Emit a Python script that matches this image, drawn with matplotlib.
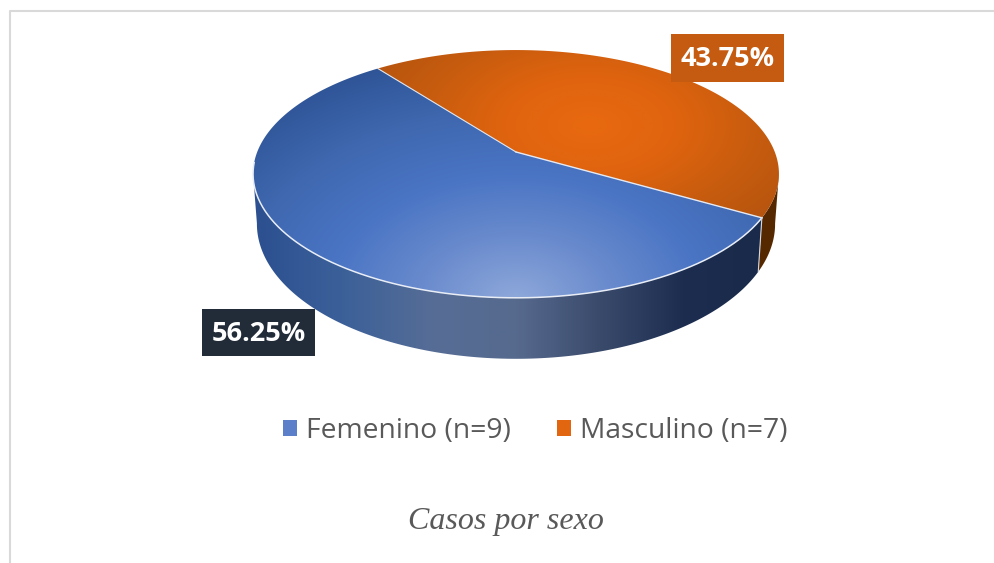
import numpy as np
import matplotlib
matplotlib.use('Agg')
import matplotlib.pyplot as plt
from matplotlib.colors import LinearSegmentedColormap
from matplotlib.patches import Polygon, Rectangle

categories = ['Femenino', 'Masculino']
counts = [9, 7]
caption = 'Casos por sexo'

total = sum(counts)
start_angle = 127.5

# perspective of the pie: pivot y, half width, height scale
k = 0.177
cx = 516
top_face = (152, 258.8, 120)
low_face = (200, 255, 130.7)


def rim(a0, a1, face):
    py, b, a = face
    t = np.radians(np.linspace(a0, a1, 240))
    u, v = np.cos(t), np.sin(t)
    return np.column_stack([cx + b * u / (1 + k * v), py - a * v / (1 + k * v)])


def paint(ax, poly, img, extent, cmap):
    patch = Polygon(poly, closed=True, fc='none', ec='none', transform=ax.transData)
    ax.add_patch(patch)
    im = ax.imshow(img, extent=extent, cmap=cmap, vmin=0, vmax=1, aspect='auto',
                   interpolation='bilinear', zorder=2)
    im.set_clip_path(patch)


fig = plt.figure(figsize=(9.95, 5.63), dpi=100)
ax = fig.add_axes([0, 0, 1, 1])

# grid for the gradients
xs, ys = np.meshgrid(np.linspace(240, 790, 300), np.linspace(0, 365, 200))
extent = (240, 790, 365, 0)

blue_top = LinearSegmentedColormap.from_list('bt', ['#8ea8da', '#6a8bcd', '#4a75c4', '#3f68b0', '#2f5597'])
orange_top = LinearSegmentedColormap.from_list('ot', ['#e8690f', '#e0640f', '#c75c0e', '#b3530f'])
blue_side = LinearSegmentedColormap.from_list(
    'bs', [(0, '#2c5090'), (0.17, '#3b6099'), (0.35, '#566d96'), (0.52, '#566a8e'),
           (0.68, '#3b4b6c'), (0.85, '#1c2d50'), (1, '#1a2a4a')])

a_fem = counts[0] / total * 360
end_angle = start_angle + a_fem

# side walls
side_x = (xs - 255) / (760 - 255)
fem_side = np.vstack([rim(190, end_angle, top_face), rim(end_angle, 190, low_face)])
paint(ax, fem_side, np.clip(side_x, 0, 1), extent, blue_side)
masc_side = np.vstack([rim(end_angle, 350, top_face), rim(350, end_angle, low_face)])
ax.add_patch(Polygon(masc_side, closed=True, fc='#562800', ec='none', zorder=2))

# top faces
pivot = [cx, top_face[0]]
d = np.hypot((xs - 516) / 300, (ys - 300) / 200)
fem_top = np.vstack([pivot, rim(start_angle, end_angle, top_face)])
paint(ax, fem_top, np.clip(d / 1.25, 0, 1), extent, blue_top)
d2 = np.hypot((xs - 590) / 210, (ys - 125) / 120)
masc_top = np.vstack([pivot, rim(end_angle, start_angle + 360, top_face)])
paint(ax, masc_top, np.clip(d2 / 1.2, 0, 1), extent, orange_top)

# thin light edges
ax.plot(*np.vstack([pivot, rim(end_angle, end_angle, top_face)[:1]]).T, color='#e4e9f3', lw=1, zorder=3)
ax.plot(*np.vstack([pivot, rim(start_angle, start_angle, top_face)[:1]]).T, color='#dfe4ee', lw=0.8, zorder=3)
ax.plot(*rim(185, end_angle, top_face).T, color='#e8edf6', lw=1.1, zorder=3)
ax.plot(*np.vstack([rim(end_angle, end_angle, top_face)[:1], rim(end_angle, end_angle, low_face)[:1]]).T,
        color='#d5d9e2', lw=0.8, zorder=3)

# value labels
ax.add_patch(Rectangle((202, 309), 113, 47, fc='#222b38', ec='none', zorder=4))
ax.add_patch(Rectangle((671, 34), 113, 48, fc='#c55a11', ec='none', zorder=4))
ax.text(258.5, 334, f'{counts[0] / total * 100:.2f}%', color='white', fontsize=19.5, fontweight='bold',
        family='Open Sans', ha='center', va='center', zorder=5)
ax.text(727.5, 59.5, f'{counts[1] / total * 100:.2f}%', color='white', fontsize=19.5, fontweight='bold',
        family='Open Sans', ha='center', va='center', zorder=5)

# legend
handles = [Rectangle((0, 0), 1, 1, fc=c, ec='none') for c in ['#5b80c9', '#e2650f']]
labels = [f'{c} (n={n})' for c, n in zip(categories, counts)]
leg = ax.legend(handles, labels, ncol=2, loc='center', bbox_to_anchor=(535.5, 431),
                bbox_transform=ax.transData, frameon=False,
                prop={'family': 'Open Sans', 'size': 20.3}, labelcolor='#595959',
                handlelength=0.5, handleheight=0.5, handletextpad=0.32, columnspacing=1.63)

ax.text(506, 522, caption, color='#595959', fontsize=23, family='Liberation Serif',
        style='italic', ha='center', va='center')

# outer frame
ax.plot([10, 10, 995], [563, 11, 11], color='#d9d9d9', lw=1.5, zorder=1)

ax.set_xlim(0, 995)
ax.set_ylim(563, 0)
ax.axis('off')

fig.savefig('out.png', dpi=100)
